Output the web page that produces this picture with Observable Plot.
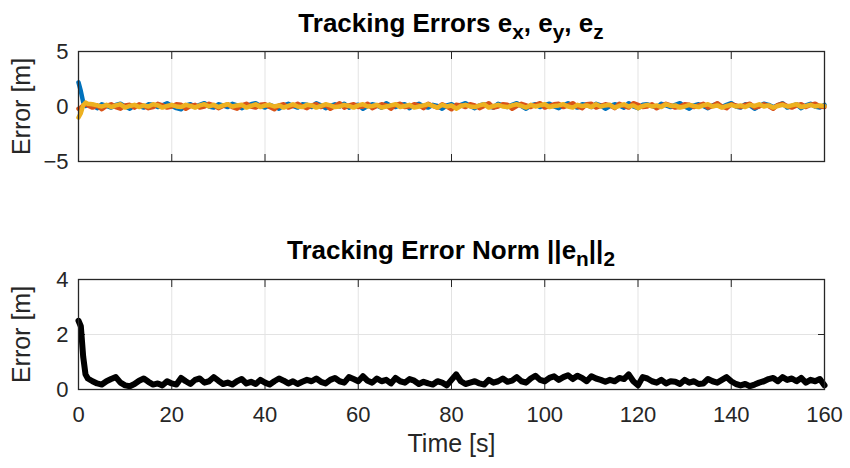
<!DOCTYPE html>
<html><head><meta charset="utf-8">
<script src="https://cdn.jsdelivr.net/npm/d3@7"></script>
<script src="https://cdn.jsdelivr.net/npm/@observablehq/plot@0.6"></script>
<style>
body{margin:0;background:#fff;}
#wrap{position:relative;width:850px;height:468px;overflow:hidden;font-family:"Liberation Sans",Arial,sans-serif;color:#000;background:#fff}
.title{position:absolute;left:0;width:902px;text-align:center;font-weight:bold;font-size:26px;line-height:26px;white-space:nowrap}
.title sub{font-size:0.8em;vertical-align:-0.35em;line-height:0}
#top,#bot{position:absolute;left:0}
#top{top:0}
#bot{top:185px}
</style></head>
<body>
<div id="wrap">
  <div id="top"></div>
  <div id="bot"></div>
  <div class="title" style="top:10px">Tracking Errors e<sub>x</sub>, e<sub>y</sub>, e<sub>z</sub></div>
  <div class="title" style="top:237px">Tracking Error Norm ||e<sub>n</sub>||<sub>2</sub></div>
</div>
<script>
// sample times [s]
const time = [0, 0.5, 1, 1.5, 2, ...d3.range(3, 161)];
const xTicks = [0, 20, 40, 60, 80, 100, 120, 140, 160];
const yTicksTop = [-5, 0, 5];
const yTicksBot = [0, 2, 4];

const ex = [2.2, 1.4, 0.4, 0.05, 0.15,
 0.1, -0.15, 0.2, 0.05, -0.1, 0.15, 0.25, 0.0, -0.2, 0.1,
 0.05, -0.1, 0.2, 0.15, -0.05, 0.1, 0.3, 0.05, -0.15, -0.25,
 0.1, 0.2, -0.05, 0.15, 0.3, 0.0, -0.1, 0.2, 0.1, -0.05,
 0.25, 0.1, -0.15, 0.05, 0.2, 0.3, 0.05, -0.1, 0.15, 0.0,
 -0.2, 0.1, 0.25, 0.05, -0.1, 0.2, 0.15, -0.05, 0.3, 0.1,
 -0.15, 0.05, 0.2, 0.0, 0.25, -0.1, 0.1, 0.15, -0.2, 0.05,
 0.2, 0.1, -0.1, 0.3, 0.05, -0.05, 0.15, 0.2, -0.15, 0.1,
 0.25, 0.0, -0.1, 0.15, 0.05, -0.2, 0.1, 0.2, -0.05, 0.15,
 0.3, 0.05, -0.15, 0.1, 0.2, 0.0, -0.1, 0.25, 0.1, -0.05,
 0.15, 0.3, 0.05, -0.2, 0.1, 0.2, -0.05, 0.15, 0.25, 0.0,
 -0.15, 0.1, 0.3, 0.05, -0.1, 0.2, 0.15, -0.05, 0.25, 0.1,
 -0.2, 0.05, 0.2, 0.1, -0.1, 0.3, 0.0, -0.15, 0.15, 0.2,
 0.05, -0.1, 0.25, 0.1, -0.05, 0.15, 0.3, 0.0, -0.2, 0.1,
 0.2, 0.05, -0.15, 0.1, 0.25, -0.05, 0.15, 0.3, 0.0, -0.1,
 0.2, 0.1, -0.2, 0.05, 0.25, 0.15, -0.05, 0.1, 0.3, -0.1,
 0.05, 0.2, -0.15, 0.1, 0.25, 0.0, -0.1, 0.15];

const ey = [-0.2, -0.1, 0.1, 0.2, 0.1,
 -0.1, 0.1, -0.25, 0.05, 0.2, -0.05, -0.2, 0.1, 0.15, -0.1,
 0.2, 0.05, -0.15, -0.05, 0.25, 0.1, -0.1, 0.0, 0.2, 0.15,
 -0.2, 0.05, 0.15, -0.1, 0.0, 0.25, 0.1, -0.15, 0.05, 0.2,
 -0.05, -0.2, 0.1, 0.25, 0.0, -0.1, 0.15, 0.2, -0.05, -0.25,
 0.1, 0.2, -0.1, 0.05, 0.25, 0.0, -0.15, 0.1, 0.2, -0.05,
 0.15, -0.2, 0.05, 0.3, -0.1, 0.1, 0.2, -0.05, 0.0, 0.25,
 -0.15, 0.05, 0.2, 0.1, -0.2, 0.15, 0.25, -0.05, 0.0, 0.2,
 0.1, -0.15, 0.25, 0.05, -0.1, 0.2, 0.0, -0.25, 0.15, 0.1,
 -0.05, 0.2, 0.1, -0.15, 0.05, 0.3, -0.1, 0.0, 0.2, 0.15,
 -0.2, 0.05, 0.25, 0.1, -0.05, 0.15, 0.3, -0.1, 0.05, 0.2,
 0.25, -0.05, 0.1, 0.3, 0.0, -0.15, 0.2, 0.25, -0.1, 0.05,
 0.2, 0.1, -0.15, 0.25, 0.05, -0.1, 0.3, 0.15, -0.05, 0.0,
 0.2, -0.15, 0.05, 0.25, 0.1, -0.1, 0.0, 0.2, 0.15, -0.05,
 0.1, 0.25, -0.1, 0.05, 0.3, 0.0, -0.15, 0.2, 0.1, -0.05,
 0.15, 0.25, -0.1, 0.0, 0.2, 0.05, -0.2, 0.15, 0.25, 0.05,
 -0.1, 0.1, 0.2, -0.05, 0.15, 0.25, 0.0, -0.05];

const ez = [-1.0, -0.6, 0.1, 0.35, 0.25,
 0.2, 0.1, 0.0, 0.15, -0.05, 0.1, 0.2, -0.1, 0.05, 0.15,
 -0.05, 0.1, 0.0, 0.2, 0.1, -0.1, 0.05, 0.15, 0.0, -0.05,
 0.15, 0.05, -0.1, 0.1, 0.2, 0.0, 0.15, -0.05, 0.1, 0.2,
 0.0, 0.1, 0.15, -0.1, 0.05, 0.2, -0.05, 0.1, 0.15, 0.0,
 0.1, -0.1, 0.05, 0.2, 0.0, -0.05, 0.15, 0.1, -0.1, 0.05,
 0.2, 0.1, -0.05, 0.0, 0.15, 0.05, -0.1, 0.1, 0.2, 0.0,
 0.05, 0.15, -0.1, 0.0, 0.1, 0.2, -0.05, 0.05, 0.15, -0.1,
 0.0, 0.1, 0.2, 0.05, -0.1, 0.15, 0.0, 0.1, -0.2, 0.05,
 0.15, 0.0, -0.05, 0.1, 0.2, -0.1, 0.05, 0.15, 0.0, -0.05,
 0.1, 0.2, 0.05, -0.1, 0.15, 0.0, 0.1, 0.2, -0.05, 0.05,
 0.1, 0.2, 0.0, -0.1, 0.15, 0.05, 0.1, -0.05, 0.2, 0.0,
 0.1, 0.15, -0.1, 0.05, 0.2, 0.0, 0.1, -0.15, 0.05, 0.15,
 0.0, 0.1, -0.05, 0.2, 0.05, 0.1, -0.1, 0.0, 0.15, 0.05,
 -0.05, 0.1, 0.2, 0.0, 0.1, -0.1, 0.05, 0.15, 0.0, 0.1,
 -0.05, 0.15, 0.05, 0.2, 0.0, 0.1, -0.1, 0.05, 0.15, 0.0,
 0.1, 0.2, -0.05, 0.05, 0.15, 0.0, 0.1, 0.05];

const en = [2.5, 2.3, 1.2, 0.55, 0.4,
 0.3, 0.22, 0.18, 0.3, 0.38, 0.45, 0.25, 0.15, 0.12, 0.2,
 0.32, 0.4, 0.28, 0.18, 0.22, 0.15, 0.3, 0.22, 0.18, 0.42,
 0.3, 0.2, 0.35, 0.4, 0.25, 0.3, 0.45, 0.32, 0.2, 0.25,
 0.18, 0.3, 0.38, 0.22, 0.28, 0.2, 0.35, 0.25, 0.18, 0.3,
 0.4, 0.32, 0.22, 0.3, 0.2, 0.28, 0.35, 0.3, 0.4, 0.28,
 0.22, 0.35, 0.42, 0.3, 0.25, 0.45, 0.38, 0.3, 0.48, 0.32,
 0.25, 0.4, 0.3, 0.35, 0.22, 0.42, 0.3, 0.25, 0.38, 0.32,
 0.2, 0.28, 0.22, 0.18, 0.3, 0.25, 0.15, 0.35, 0.55, 0.3,
 0.2, 0.25, 0.3, 0.22, 0.18, 0.35, 0.25, 0.3, 0.4, 0.28,
 0.32, 0.45, 0.3, 0.25, 0.4, 0.5, 0.35, 0.3, 0.42, 0.48,
 0.35, 0.45, 0.52, 0.38, 0.5, 0.42, 0.3, 0.48, 0.4, 0.35,
 0.28, 0.35, 0.3, 0.42, 0.38, 0.55, 0.3, 0.15, 0.45, 0.4,
 0.3, 0.25, 0.35, 0.22, 0.3, 0.28, 0.2, 0.35, 0.25, 0.3,
 0.2, 0.22, 0.38, 0.3, 0.25, 0.35, 0.45, 0.3, 0.2, 0.15,
 0.2, 0.12, 0.18, 0.25, 0.3, 0.38, 0.42, 0.3, 0.45, 0.35,
 0.4, 0.3, 0.42, 0.25, 0.35, 0.3, 0.38, 0.15];

const seriesColors = {ex: "#0072BD", ey: "#D95319", ez: "#EDB120"};

const rows = (arr) => time.map((t, i) => ({t, v: arr[i]}));

const font = "Liberation Sans, Arial, sans-serif";
const frameColor = "#262626";
const gridColor = "#e3e3e3";
const blank = () => "";

function boxAxes(yTicks, showX) {
  const m = [
    Plot.gridX(xTicks, {stroke: gridColor, strokeOpacity: 1}),
    Plot.gridY(yTicks, {stroke: gridColor, strokeOpacity: 1}),
    Plot.axisX(xTicks, {anchor: "bottom", tickSize: -7, tickFormat: blank, label: null, stroke: frameColor}),
    Plot.axisX(xTicks, {anchor: "top", tickSize: -7, tickFormat: blank, label: null, stroke: frameColor}),
    Plot.axisY(yTicks, {anchor: "left", tickSize: -7, tickFormat: blank, label: null, stroke: frameColor}),
    Plot.axisY(yTicks, {anchor: "right", tickSize: -7, tickFormat: blank, label: null, stroke: frameColor}),
    Plot.axisY(yTicks, {anchor: "left", tickSize: 0, tickPadding: 10, fontSize: 22, fill: frameColor, label: null}),
    Plot.axisY(yTicks, {anchor: "left", tickSize: 0, tickFormat: blank, fontSize: 25, fill: frameColor,
      label: "Error [m]", labelAnchor: "center", labelArrow: "none", labelOffset: 66})
  ];
  if (showX) {
    m.push(Plot.axisX(xTicks, {anchor: "bottom", tickSize: 0, tickPadding: 17, fontSize: 22, fill: frameColor, label: null}));
    m.push(Plot.axisX(xTicks, {anchor: "bottom", tickSize: 0, tickFormat: blank, fontSize: 25, fill: frameColor,
      label: "Time [s]", labelAnchor: "center", labelArrow: "none", labelOffset: 62}));
  }
  return m;
}

const topPlot = Plot.plot({
  width: 850, height: 185,
  marginLeft: 78, marginRight: 26, marginTop: 51, marginBottom: 24,
  style: {fontFamily: font, fontSize: "22px", color: frameColor, background: "transparent"},
  x: {domain: [0, 160]},
  y: {domain: [-5, 5]},
  marks: [
    ...boxAxes(yTicksTop, false),
    Plot.line(rows(ex), {x: "t", y: "v", stroke: seriesColors.ex, strokeWidth: 4.5, strokeLinejoin: "round"}),
    Plot.line(rows(ey), {x: "t", y: "v", stroke: seriesColors.ey, strokeWidth: 4.5, strokeLinejoin: "round"}),
    Plot.line(rows(ez), {x: "t", y: "v", stroke: seriesColors.ez, strokeWidth: 4.5, strokeLinejoin: "round"}),
    Plot.frame({stroke: frameColor, strokeWidth: 1.3})
  ]
});
document.getElementById("top").append(topPlot);

const botPlot = Plot.plot({
  width: 850, height: 283,
  marginLeft: 78, marginRight: 26, marginTop: 94, marginBottom: 79,
  style: {fontFamily: font, fontSize: "22px", color: frameColor, background: "transparent"},
  x: {domain: [0, 160]},
  y: {domain: [0, 4]},
  marks: [
    ...boxAxes(yTicksBot, true),
    Plot.line(rows(en), {x: "t", y: "v", stroke: "#000", strokeWidth: 6, strokeLinejoin: "round"}),
    Plot.frame({stroke: frameColor, strokeWidth: 1.3})
  ]
});
document.getElementById("bot").append(botPlot);
</script>
</body></html>
